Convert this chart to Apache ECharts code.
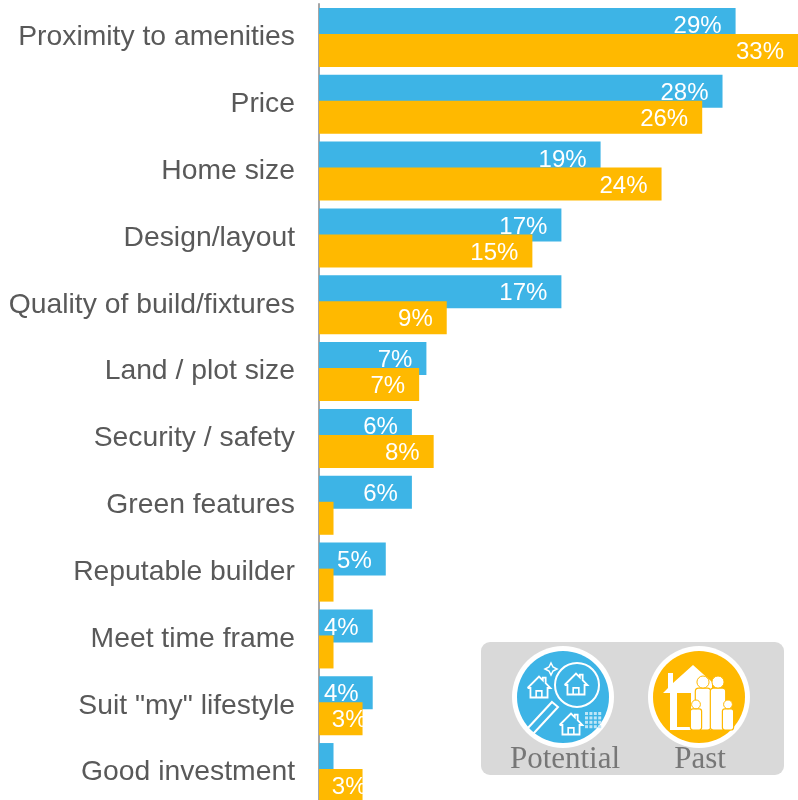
<!DOCTYPE html>
<html><head><meta charset="utf-8">
<style>html,body{margin:0;padding:0;background:#fff;width:798px;height:800px;overflow:hidden}#c{width:798px;height:812px;filter:blur(0.5px)}</style>
<script src="https://cdn.jsdelivr.net/npm/echarts@6/dist/echarts.min.js"></script>
</head><body><div id="c"></div>
<script>
const categories = ['Proximity to amenities','Price','Home size','Design/layout','Quality of build/fixtures','Land / plot size','Security / safety','Green features','Reputable builder','Meet time frame','Suit "my" lifestyle','Good investment'];
const potential = [28.7,27.8,19.4,16.7,16.7,7.4,6.4,6.4,4.6,3.7,3.7,1];
const past = [33,26.4,23.6,14.7,8.8,6.9,7.9,1,1,1,3,3];
const BLUE='#3db4e6', GOLD='#ffb900', GREY='#595959';

function house(cx,cy,s,stroke,lw){
  return {type:'polyline',silent:true,z:12,
    shape:{points:[[-12,0],[0,-12],[4,-8],[4,-11],[7,-11],[7,-5],[12,0],[9,0],[9,10],[-9,10],[-9,0],[-12,0]].map(p=>[cx+p[0]*s,cy+p[1]*s])},
    style:{stroke:stroke,fill:'none',lineWidth:lw}};
}
function door(cx,cy,s){
  return {type:'polyline',silent:true,z:12,shape:{points:[[-3,10],[-3,3],[3,3],[3,10]].map(p=>[cx+p[0]*s,cy+p[1]*s])},style:{stroke:'#fff',fill:'none',lineWidth:1.6}};
}
function person(cx,top,s){
  return [
    {type:'rect',silent:true,z:12,shape:{x:cx-7*s,y:top+11*s,width:14*s,height:(730-top-11*s),r:3*s},style:{fill:'#fff',stroke:GOLD,lineWidth:1.2}},
    {type:'circle',silent:true,z:12,shape:{cx:cx,cy:top+5.5*s,r:5.5*s},style:{fill:'#fff',stroke:GOLD,lineWidth:1}}
  ];
}
const dots=[];
[0,1,2,3].forEach(r=>[0,1,2,3].forEach(c=>dots.push({type:'rect',silent:true,z:12,shape:{x:585+c*4.4,y:712+r*4.4,width:3,height:3},style:{fill:'#bfe6f7'}})));

const legendGraphics=[
  {type:'rect',silent:true,z:10,shape:{x:481,y:642,width:303,height:133,r:9},style:{fill:'#d9d9d9'}},
  {type:'circle',silent:true,z:11,shape:{cx:563,cy:697,r:51},style:{fill:'#fff'}},
  {type:'circle',silent:true,z:11,shape:{cx:563,cy:697,r:46},style:{fill:BLUE}},
  {type:'circle',silent:true,z:11,shape:{cx:699,cy:697,r:51},style:{fill:'#fff'}},
  {type:'circle',silent:true,z:11,shape:{cx:699,cy:697,r:46},style:{fill:GOLD}},
  {type:'circle',silent:true,z:12,shape:{cx:577,cy:685,r:22},style:{stroke:'#fff',fill:'none',lineWidth:2}},
  {type:'polygon',silent:true,z:12,shape:{points:[[552,702],[558,707],[533,734],[527,729]]},style:{stroke:'#fff',fill:'none',lineWidth:2}},
  {type:'polygon',silent:true,z:12,shape:{points:[[551,663],[553,667],[557,669],[553,671],[551,675],[549,671],[545,669],[549,667]]},style:{stroke:'#fff',fill:'none',lineWidth:1.5}},
  house(539,688,.95,'#fff',1.8),door(539,688,.95),
  house(576,685,.95,'#fff',1.8),door(576,685,.95),
  house(571,725,.95,'#fff',1.8),door(571,725,.95),
  ...dots,
  {type:'polygon',silent:true,z:12,shape:{points:[[663,693],[668,688],[668,673],[673,673],[673,683],[693,665],[712,682],[712,730],[670,730],[670,693]]},style:{fill:'#fff'}},
  {type:'rect',silent:true,z:12,shape:{x:677,y:693,width:14,height:34},style:{fill:GOLD}},
  ...person(703,676,1.1),
  ...person(718,676,1.1),
  ...person(696,700,.8),
  ...person(728,700,.8),
  {type:'text',silent:true,z:12,style:{x:565,y:760,text:'Potential',align:'center',verticalAlign:'middle',font:'31px "Liberation Serif"',fill:'#777777'}},
  {type:'text',silent:true,z:12,style:{x:700,y:760,text:'Past',align:'center',verticalAlign:'middle',font:'31px "Liberation Serif"',fill:'#777777'}}
];

function items(vals){
  return vals.map(v=>({value:v,label:{offset:[v<3.5?18:0,2]}}));
}
const barLabel={show:true,position:'insideRight',distance:14,color:'#fff',fontFamily:'Liberation Sans',fontSize:24,
  formatter:p=>p.value<2?'':Math.round(p.value)+'%'};
const chart=echarts.init(document.getElementById('c'));
chart.setOption({
  animation:false,backgroundColor:'#fff',
  grid:{left:319,top:4,width:479,height:802,containLabel:false},
  xAxis:{type:'value',min:0,max:33,show:false},
  yAxis:{type:'category',inverse:true,data:categories,
    axisLine:{lineStyle:{color:'#a6a6a6',width:2}},axisTick:{show:false},
    axisLabel:{color:GREY,fontFamily:'Liberation Sans',fontSize:28.3,margin:24,padding:[2,0,0,0]}},
  series:[
    {name:'Potential',type:'bar',data:items(potential),barWidth:33,barGap:'-21%',itemStyle:{color:BLUE},label:barLabel},
    {name:'Past',type:'bar',data:items(past),barWidth:33,barGap:'-21%',itemStyle:{color:GOLD},label:barLabel}
  ],
  graphic:legendGraphics
});
</script></body></html>
